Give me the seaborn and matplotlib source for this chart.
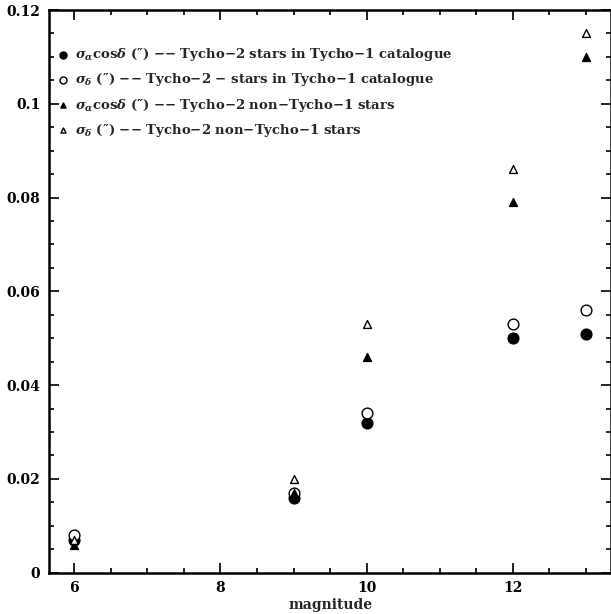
import matplotlib
matplotlib.use("Agg")
import matplotlib.pyplot as plt
import seaborn as sns
import pandas as pd
from matplotlib.ticker import MultipleLocator, FuncFormatter

# Mean positional errors versus magnitude
magnitude = [6, 9, 10, 12, 13]
ra_tyc1 = [0.007, 0.016, 0.032, 0.050, 0.051]
dec_tyc1 = [0.008, 0.017, 0.034, 0.053, 0.056]
ra_new = [0.006, 0.017, 0.046, 0.079, 0.110]
dec_new = [0.007, 0.020, 0.053, 0.086, 0.115]

labels = [
    r"$\sigma_\alpha$cos$\delta$ (″) −− Tycho−2 stars in Tycho−1 catalogue",
    r"$\sigma_\delta$ (″) −− Tycho−2 − stars in Tycho−1 catalogue",
    r"$\sigma_\alpha$cos$\delta$ (″) −− Tycho−2 non−Tycho−1 stars",
    r"$\sigma_\delta$ (″) −− Tycho−2 non−Tycho−1 stars",
]

sns.set_style("ticks")
plt.rcParams["font.family"] = ["DejaVu Serif"]
plt.rcParams["font.weight"] = "bold"
plt.rcParams["axes.labelweight"] = "bold"
plt.rcParams["mathtext.fontset"] = "custom"
plt.rcParams["mathtext.it"] = "DejaVu Serif:italic:bold"
plt.rcParams["mathtext.rm"] = "DejaVu Serif:bold"

fig = plt.figure(figsize=(6.11, 6.14), dpi=100)
ax = fig.add_axes([48.7 / 611, (614 - 572.7) / 614, (611.5 - 48.7) / 611, (572.7 - 10) / 614])

series = [
    (ra_tyc1, "o", "black", 60),
    (dec_tyc1, "o", "white", 60),
    (ra_new, "^", "black", 32),
    (dec_new, "^", "white", 32),
]
for (vals, mk, fc, size), lab in zip(series, labels):
    df = pd.DataFrame({"magnitude": magnitude, "sigma": vals})
    sns.scatterplot(data=df, x="magnitude", y="sigma", marker=mk, s=size,
                    facecolor=fc, edgecolor="black", linewidth=1.0,
                    label=lab, ax=ax, zorder=3)

ax.set_xlim(5.65, 13.35)
ax.set_ylim(0, 0.12)
ax.set_xlabel("magnitude", fontsize=10, labelpad=2)
ax.set_ylabel("")

ax.xaxis.set_major_locator(MultipleLocator(2))
ax.xaxis.set_minor_locator(MultipleLocator(0.5))
ax.yaxis.set_major_locator(MultipleLocator(0.02))
ax.yaxis.set_minor_locator(MultipleLocator(0.005))
ax.yaxis.set_major_formatter(FuncFormatter(lambda v, p: f"{v:g}"))

ax.tick_params(which="both", direction="in", top=True, right=True,
               width=1.2, labelsize=10, colors="black")
ax.tick_params(which="major", length=7.5, pad=6)
ax.tick_params(which="minor", length=3.8)
for sp in ax.spines.values():
    sp.set_linewidth(1.8)
    sp.set_color("black")

leg = ax.legend(loc="upper left", frameon=False, fontsize=9.5,
                handletextpad=0.2, borderaxespad=0.0, labelspacing=0.62,
                handlelength=1.4, markerscale=0.65, bbox_to_anchor=(0.0, 0.945))

fig.savefig("out.png", dpi=100)
